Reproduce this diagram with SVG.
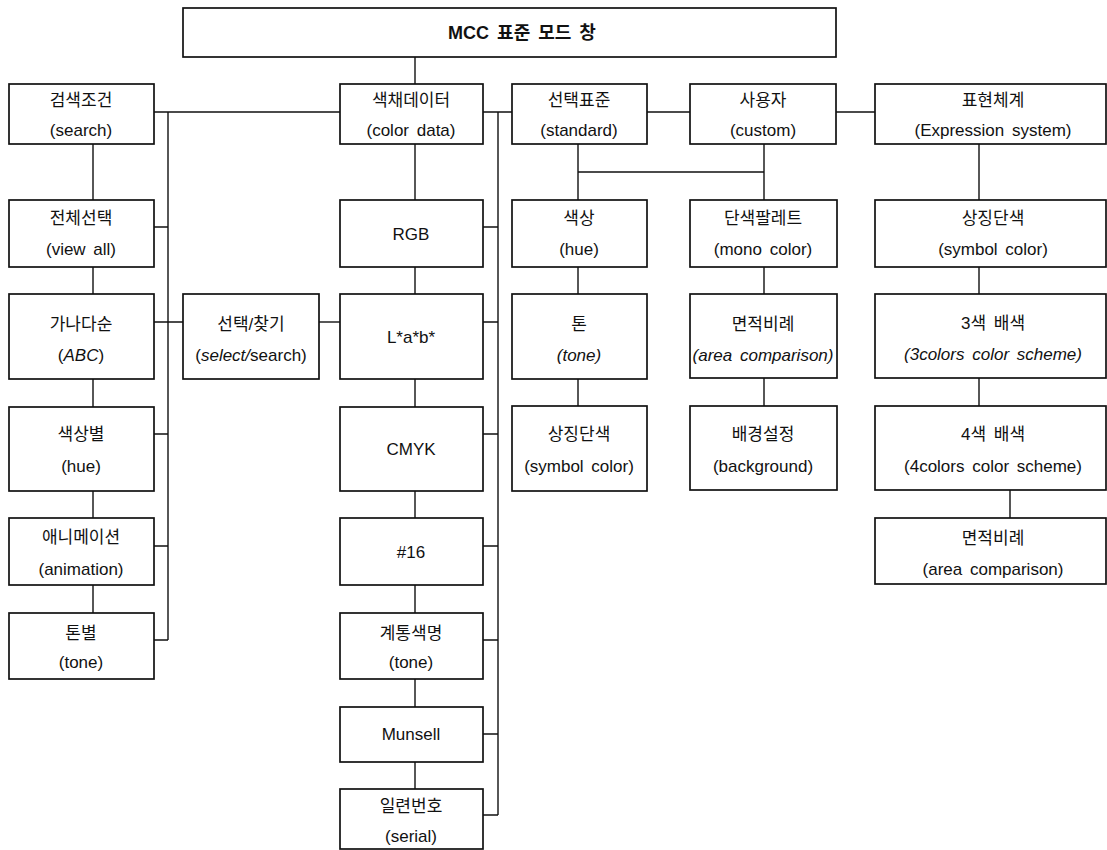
<svg xmlns="http://www.w3.org/2000/svg" width="1107" height="850" viewBox="0 0 1107 850">
<style>
.box{fill:#fff;stroke:#111;stroke-width:1.7}
.ln{fill:none;stroke:#111;stroke-width:1.4}
text{font-family:"Liberation Sans","Noto Sans CJK KR",Arial,sans-serif;font-size:17px;fill:#111;text-anchor:middle;word-spacing:3px}
.t{font-weight:bold;font-size:18px}
.i{font-style:italic}
</style>
<rect width="1107" height="850" fill="#fff"/>
<g id="connectors">
<path class="ln" d="M415 57V84"/>
<path class="ln" d="M154 112H340M483 112H512M647 112H690M836 112H875"/>
<path class="ln" d="M168 112V640M154 227H168M154 322H183M154 434H168M154 546H168M154 640H168"/>
<path class="ln" d="M319 322H340"/>
<path class="ln" d="M93 144V200M93 267V294M93 379V407M93 491V518M93 585V613"/>
<path class="ln" d="M415 144V200M415 267V294M415 379V407M415 491V518M415 585V613M415 679V707M415 762V789"/>
<path class="ln" d="M498 112V815M483 227H498M483 322H498M483 434H498M483 546H498M483 640H498M483 734H498M483 815H498"/>
<path class="ln" d="M578 144V200M578 172H764M764 144V200M578 267V294M578 379V406M764 267V294M764 378V406"/>
<path class="ln" d="M979 144V200M979 267V294M979 378V406M1010 490V518"/>
</g>
<g id="n-top"><rect class="box" x="183" y="8" width="653" height="49"/><text class="t" x="522" y="39">MCC 표준 모드 창</text></g>
<g id="n-search"><rect class="box" x="9" y="84" width="145" height="60"/><text x="81" y="106">검색조건</text><text x="81" y="136">(search)</text></g>
<g id="n-colordata"><rect class="box" x="340" y="84" width="143" height="60"/><text x="411" y="106">색채데이터</text><text x="411" y="136">(color data)</text></g>
<g id="n-standard"><rect class="box" x="512" y="84" width="135" height="60"/><text x="579" y="106">선택표준</text><text x="579" y="136">(standard)</text></g>
<g id="n-custom"><rect class="box" x="690" y="84" width="146" height="60"/><text x="763" y="106">사용자</text><text x="763" y="136">(custom)</text></g>
<g id="n-expression"><rect class="box" x="875" y="84" width="231" height="60"/><text x="993" y="106">표현체계</text><text x="993" y="136">(Expression system)</text></g>
<g id="n-viewall"><rect class="box" x="9" y="200" width="145" height="67"/><text x="81" y="224">전체선택</text><text x="81" y="255">(view all)</text></g>
<g id="n-abc"><rect class="box" x="9" y="294" width="145" height="85"/><text x="81" y="330">가나다순</text><text x="81" y="361">(<tspan class="i">ABC</tspan>)</text></g>
<g id="n-hue1"><rect class="box" x="9" y="407" width="145" height="84"/><text x="81" y="440">색상별</text><text x="81" y="472">(hue)</text></g>
<g id="n-animation"><rect class="box" x="9" y="518" width="145" height="67"/><text x="81" y="543">애니메이션</text><text x="81" y="575">(animation)</text></g>
<g id="n-tone1"><rect class="box" x="9" y="613" width="145" height="66"/><text x="81" y="639">톤별</text><text x="81" y="668">(tone)</text></g>
<g id="n-selectsearch"><rect class="box" x="183" y="294" width="136" height="85"/><text x="251" y="330">선택/찾기</text><text x="251" y="361">(<tspan class="i">select/</tspan>search)</text></g>
<g id="n-rgb"><rect class="box" x="340" y="200" width="143" height="67"/><text x="411" y="240">RGB</text></g>
<g id="n-lab"><rect class="box" x="340" y="294" width="143" height="85"/><text x="411" y="343">L*a*b*</text></g>
<g id="n-cmyk"><rect class="box" x="340" y="407" width="143" height="84"/><text x="411" y="455">CMYK</text></g>
<g id="n-hex"><rect class="box" x="340" y="518" width="143" height="67"/><text x="411" y="558">#16</text></g>
<g id="n-tone2"><rect class="box" x="340" y="613" width="143" height="66"/><text x="411" y="639">계통색명</text><text x="411" y="668">(tone)</text></g>
<g id="n-munsell"><rect class="box" x="340" y="707" width="143" height="55"/><text x="411" y="740">Munsell</text></g>
<g id="n-serial"><rect class="box" x="340" y="789" width="143" height="60"/><text x="411" y="812">일련번호</text><text x="411" y="842">(serial)</text></g>
<g id="n-hue2"><rect class="box" x="512" y="200" width="135" height="67"/><text x="579" y="224">색상</text><text x="579" y="255">(hue)</text></g>
<g id="n-tone3"><rect class="box" x="512" y="294" width="135" height="85"/><text x="579" y="330">톤</text><text x="579" y="361" class="i">(tone)</text></g>
<g id="n-symbol1"><rect class="box" x="512" y="406" width="135" height="85"/><text x="579" y="440">상징단색</text><text x="579" y="472">(symbol color)</text></g>
<g id="n-mono"><rect class="box" x="690" y="200" width="147" height="67"/><text x="763" y="224">단색팔레트</text><text x="763" y="255">(mono color)</text></g>
<g id="n-area1"><rect class="box" x="690" y="294" width="147" height="84"/><text x="763" y="330">면적비례</text><text x="763" y="361" class="i">(area comparison)</text></g>
<g id="n-background"><rect class="box" x="690" y="406" width="147" height="84"/><text x="763" y="440">배경설정</text><text x="763" y="472">(background)</text></g>
<g id="n-symbol2"><rect class="box" x="875" y="200" width="231" height="67"/><text x="993" y="224">상징단색</text><text x="993" y="255">(symbol color)</text></g>
<g id="n-3colors"><rect class="box" x="875" y="294" width="231" height="84"/><text x="993" y="329">3색 배색</text><text x="993" y="360" class="i">(3colors color scheme)</text></g>
<g id="n-4colors"><rect class="box" x="875" y="406" width="231" height="84"/><text x="993" y="440">4색 배색</text><text x="993" y="472">(4colors color scheme)</text></g>
<g id="n-area2"><rect class="box" x="875" y="518" width="231" height="66"/><text x="993" y="544">면적비례</text><text x="993" y="575">(area comparison)</text></g>
</svg>
